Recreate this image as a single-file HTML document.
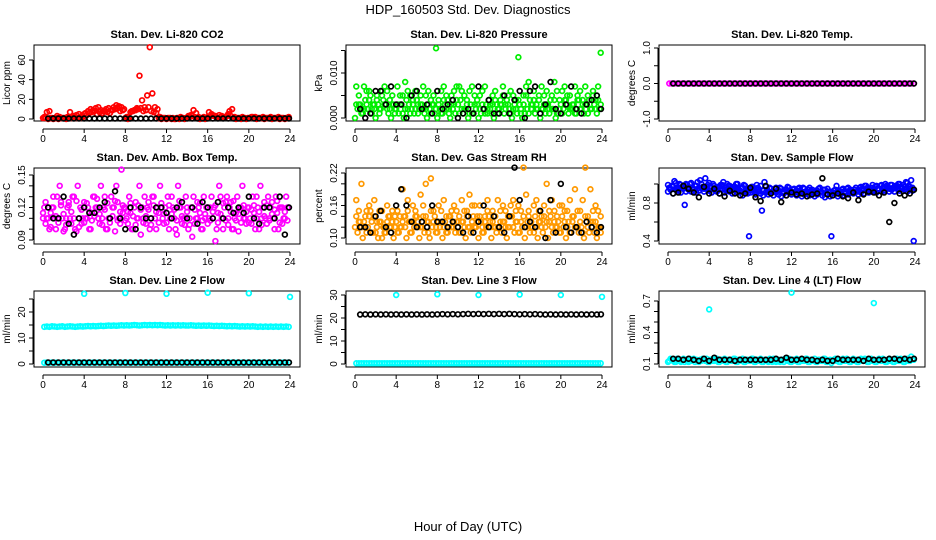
<!DOCTYPE html>
<html><head><meta charset="utf-8"><style>
html,body{margin:0;padding:0;background:#fff;}
svg{display:block;font-family:"Liberation Sans",sans-serif;}
</style></head><body>
<svg id="chart" width="936" height="540" viewBox="0 0 936 540" xmlns="http://www.w3.org/2000/svg">
<text x="468" y="14" text-anchor="middle" font-size="13">HDP_160503  Std. Dev. Diagnostics</text>
<text x="468" y="531" text-anchor="middle" font-size="13">Hour of Day (UTC)</text>
<g id="panels"></g>
</svg>
<script>
const hoursDense = [0.125,0.375,0.625,0.875,1.125,1.375,1.625,1.875,2.125,2.375,2.625,2.875,3.125,3.375,3.625,3.875,4.125,4.375,4.625,4.875,5.125,5.375,5.625,5.875,6.125,6.375,6.625,6.875,7.125,7.375,7.625,7.875,8.125,8.375,8.625,8.875,9.125,9.375,9.625,9.875,10.125,10.375,10.625,10.875,11.125,11.375,11.625,11.875,12.125,12.375,12.625,12.875,13.125,13.375,13.625,13.875,14.125,14.375,14.625,14.875,15.125,15.375,15.625,15.875,16.125,16.375,16.625,16.875,17.125,17.375,17.625,17.875,18.125,18.375,18.625,18.875,19.125,19.375,19.625,19.875,20.125,20.375,20.625,20.875,21.125,21.375,21.625,21.875,22.125,22.375,22.625,22.875,23.125,23.375,23.625,23.875];
const hoursDense2 = [0,0.25,0.5,0.75,1,1.25,1.5,1.75,2,2.25,2.5,2.75,3,3.25,3.5,3.75,4,4.25,4.5,4.75,5,5.25,5.5,5.75,6,6.25,6.5,6.75,7,7.25,7.5,7.75,8,8.25,8.5,8.75,9,9.25,9.5,9.75,10,10.25,10.5,10.75,11,11.25,11.5,11.75,12,12.25,12.5,12.75,13,13.25,13.5,13.75,14,14.25,14.5,14.75,15,15.25,15.5,15.75,16,16.25,16.5,16.75,17,17.25,17.5,17.75,18,18.25,18.5,18.75,19,19.25,19.5,19.75,20,20.25,20.5,20.75,21,21.25,21.5,21.75,22,22.25,22.5,22.75,23,23.25,23.5,23.75];
const hoursHalf = [0.5,1,1.5,2,2.5,3,3.5,4,4.5,5,5.5,6,6.5,7,7.5,8,8.5,9,9.5,10,10.5,11,11.5,12,12.5,13,13.5,14,14.5,15,15.5,16,16.5,17,17.5,18,18.5,19,19.5,20,20.5,21,21.5,22,22.5,23,23.5,23.9];
const hoursOutlier = [4,8,12,16,20,24];
const hoursOutlier3 = [4,12,20];
const xTicks = [0,4,8,12,16,20,24];

const co2Red = [2,7,8,1,1,3,2,1, 1,2,7,2,1,1,1,2, 6,8,10,9,11,12,9,8, 10,11,9,12,14,13,12,10, 2,1,8,9,11,44,19,12, 24,73,26,12,10,2,1,1, 1,1,1,0,1,2,1,1, 3,4,9,6,2,1,2,1, 7,5,3,2,4,3,2,3, 8,10,2,1,1,2,1,1, 1,2,2,1,1,2,1,1, 2,1,1,2,1,1,1,2];
const co2Red2 = [1,1,0,1,0,1,0,1, 1,0,1,1,3,4,5,3, 5,4,6,7,8,5,7,6, 8,7,6,9,10,11,8,9, 1,0,7,8,9,10,11,8, 9,12,8,7,6,1,0,1, 0,1,0,0,1,0,1,0, 1,2,3,2,1,0,1,0, 2,3,4,3,1,2,1,2, 5,3,1,0,1,0,1,0, 1,2,1,0,1,1,0,1, 1,0,1,1,0,1,0,1];
const co2Black = [0.5,0.5,0.5,0.5,0.5,0.5,0.5,0.5,0.5,0.5,0.5,0.5,0.5,0.5,0.5,0.5,0.5,0.5,0.5,0.5,0.5,0.5,0.5,0.5,0.5,0.5,0.5,0.5,0.5,0.5,0.5,0.5,0.5,0.5,0.5,0.5,0.5,0.5,0.5,0.5,0.5,0.5,0.5,0.5,0.5,0.5,0.5,0.5];

const presGreenA = [7,3,2,7,6,4,2,3, 5,1,6,7,2,4,3,2, 7,3,5,8,2,1,4,6, 3,5,7,2,6,1,3,15.5, 4,6,7,2,1,5,3,7, 7,6,2,4,1,7,5,3, 2,6,7,1,3,5,6,2, 4,7,3,5,6,2,4,13.5, 1,5,7,8,3,6,2,4, 7,3,6,2,5,8,1,4, 6,7,3,5,2,7,4,6, 3,7,5,2,6,4,7,14.5];
const presGreenB = [0,2,3,1,4,2,5,3, 0,3,2,4,3,1,0,3, 2,1,3,0,4,3,2,1, 4,2,3,1,0,2,3,1, 0,2,1,3,4,0,2,1, 3,4,1,2,0,3,1,2, 0,1,2,3,4,1,0,3, 2,3,1,4,2,0,3,1, 3,0,1,2,4,3,1,2, 0,2,1,3,4,2,0,1, 3,2,4,1,2,3,1,4, 2,1,3,4,2,3,1,2];
const presGreenC = [3,5,1,2,3,6,1,2, 4,2,5,3,6,2,5,1, 3,5,1,2,6,5,3,2, 1,3,2,5,3,4,5,2, 3,1,4,5,2,3,6,4, 1,2,5,3,6,1,3,4, 5,3,1,2,2,3,4,1, 3,5,2,3,1,5,2,4, 2,3,5,1,2,4,3,5, 2,5,3,1,2,4,6,2, 1,4,5,2,3,1,5,2, 4,3,1,2,5,2,4,3];
const presBlack = [2,0,1,6,6,3,7,3,3,0,5,6,2,3,1,6,2,3,4,0,1,2,1,7,2,4,1,1,5,1,4,6,0,6,7,1,3,8,2,1,3,7,2,1,3,4,5,2];

const tempMag = [0,0,0,0,0,0,0,0,0,0,0,0,0,0,0,0,0,0,0,0,0,0,0,0,0,0,0,0,0,0,0,0,0,0,0,0,0,0,0,0,0,0,0,0,0,0,0,0,0,0,0,0,0,0,0,0,0,0,0,0,0,0,0,0,0,0,0,0,0,0,0,0,0,0,0,0,0,0,0,0,0,0,0,0,0,0,0,0,0,0,0,0,0,0,0,0];
const tempBlack = [0,0,0,0,0,0,0,0,0,0,0,0,0,0,0,0,0,0,0,0,0,0,0,0,0,0,0,0,0,0,0,0,0,0,0,0,0,0,0,0,0,0,0,0,0,0,0,0];

const boxMagA = [12,11,10,12,11,13,14,11, 10,12,11,13,10,14,12,11, 11,12,10,13,12,11,14,12, 10,11,13,12,14,11,15.5,12, 11,13,10,12,11,14,12,13, 12,10,13,11,12,14,11,12, 13,11,12,10,14,12,11,13, 10,12,13,11,12,10,13,12, 11,13,12,10,14,11,12,13, 12,10,11,13,12,14,11,12, 11,13,10,12,14,12,11,13, 12,11,13,10,12,11,13,12];
const boxMagB = [11,10.5,12,11.5,13,10,11,12.5, 9.8,11,12.5,10.5,13,9.8,11,10.5, 12.5,11,10,11.5,13,12,10.5,11, 13,10,11,12,9.8,12.5,10.5,11.5, 12,10.5,11.5,10,12.5,11,9.5,11, 10.5,12.5,11,13,10,11.5,12,10.5, 11.5,10,13,11,9.5,12,10.5,11, 12,11,9.3,10.5,12.5,11.5,10,11, 10.5,12,11,8.9,11.5,13,10,12.5, 11,12.5,10,11.5,9.8,12,11,10.5, 12,10.5,11.5,13,10,11,12.5,10.5, 11,12.5,10,11.5,12,10.5,11,12];
const boxMagC = [11.5,12.5,11,10.2,12,11.2,10.6,12.2, 11.4,10.4,12.2,11.6,11,12.6,10.2,11.8, 10.6,12.4,11.6,10.8,11.2,12.8,11.4,10.4, 11.8,12.4,10.6,11.2,12.6,10.8,11.6,12.2, 10.8,11.6,12.4,11.2,10.4,12.2,11.8,10.6, 11.2,11.8,10.4,12.2,11.6,10.6,12.4,11.4, 10.6,12.2,11.4,11.8,10.8,12.6,11.2,10.4, 11.6,10.4,12,11.8,11,12.4,10.8,11.4, 12,10.8,11.6,12.2,10.6,11.4,12.4,10.8, 10.4,11.6,12.6,10.8,11.4,10.6,12.2,11.6, 10.6,11.8,12.2,11,11.6,10.4,11.2,12.2, 10.8,11.4,11.8,12.6,10.6,12,11.6,10.8];
const boxBlack = [12,11,11,13,10.5,9.5,11,12,11.5,11.5,12,12.5,11,13.5,11,10,12,10,12,11,11,12,12,11.5,11,12,12.5,11,12,10.5,12.5,12,11,12.5,11,12,11.5,12,11.5,13,11,10.5,12,12,11,13,9.5,12];

const rhOrangeA = [17,13,20,12,15,14,11,17, 13,15,10,12,16,14,13,12, 15,12,19,14,17,13,16,15, 12,18,14,20,13,21,15,12, 16,13,17,14,12,15,16,13, 14,17,12,15,18,13,16,14, 16,12,14,17,13,15,12,17, 13,16,15,12,14,17,13,16, 15,23,18,14,12,16,17,13, 14,16,20,13,17,15,12,16, 16,13,15,17,14,19,12,15, 17,23,14,19,13,16,15,14];
const rhOrangeB = [12,11,13,10,14,12,15,11, 11,10,13,12,11,14,12,10, 13,11,12,14,10,13,11,12, 14,10,12,11,13,10,12,14, 11,12,10,13,11,14,12,11, 12,11,13,10,12,11,14,12, 10,13,11,12,14,10,12,11, 12,11,13,10,12,14,11,13, 11,12,10,13,11,12,14,10, 13,11,12,10,14,11,12,13, 11,12,10,13,11,14,12,11, 12,10,13,11,12,11,10,12];
const rhOrangeC = [14,15,12,13,11,16,13,14, 12,13,15,11,13,12,15,14, 11,14,13,12,15,11,13,14, 13,12,16,14,11,15,13,11, 13,15,12,11,14,12,13,15, 11,13,15,14,12,16,12,13, 14,11,13,15,12,13,14,12, 15,13,12,14,16,12,15,11, 13,14,12,15,13,11,12,15, 12,14,13,15,12,13,14,11, 14,15,12,11,13,12,15,13, 11,14,12,13,15,13,12,11];
const rhBlack = [12,12,11,14,15,12,11,16,19,16,13,12,13,12,16,13,13,12,13,12,11,14,11,13,16,12,14,12,11,14,23,17,12,13,12,15,10,17,11,20,12,11,12,11,13,12,11,12];

const flowBlueA = [0.96,0.98,1.03,0.95,1.0,0.97,0.78,0.99, 1.0,0.96,0.98,1.02,1.04,0.97,1.06,0.99, 0.98,1.0,0.95,0.97,0.99,1.02,0.96,0.98, 0.95,0.97,1.0,0.94,0.96,0.99,0.93,0.45, 0.97,0.95,0.99,0.93,0.72,1.02,0.94,0.96, 0.92,0.95,0.93,0.96,0.91,0.94,0.97,0.92, 0.94,0.91,0.95,0.93,0.96,0.92,0.94,0.93, 0.91,0.93,0.95,0.92,0.94,0.9,0.92,0.45, 0.93,0.98,0.91,0.94,0.92,0.95,0.93,0.91, 0.94,0.92,0.96,0.95,0.98,0.96,0.94,0.99, 0.97,0.95,0.98,0.96,1.0,0.97,0.99,0.96, 0.98,1.0,0.97,0.99,1.02,0.98,1.04,0.4];
const flowBlueB = [0.92,0.95,0.9,0.94,0.93,0.91,0.96,0.92, 0.94,0.92,0.95,0.91,0.93,0.96,0.92,0.95, 0.93,0.91,0.94,0.92,0.9,0.95,0.91,0.93, 0.92,0.9,0.94,0.91,0.93,0.88,0.92,0.9, 0.91,0.93,0.89,0.92,0.9,0.88,0.91,0.89, 0.9,0.88,0.91,0.89,0.87,0.9,0.88,0.91, 0.89,0.91,0.88,0.9,0.87,0.89,0.91,0.88, 0.9,0.87,0.89,0.91,0.88,0.86,0.89,0.87, 0.88,0.9,0.87,0.89,0.88,0.9,0.89,0.91, 0.9,0.92,0.89,0.91,0.9,0.93,0.91,0.92, 0.93,0.91,0.94,0.92,0.93,0.95,0.92,0.94, 0.92,0.95,0.93,0.96,0.94,0.92,0.95,0.93];
const flowBlueC = [0.99,0.94,0.97,1.01,0.96,0.99,0.95,1.0, 0.97,1.01,0.94,0.98,0.96,1.0,0.95,0.97, 1.01,0.96,0.98,0.94,0.97,0.99,0.94,1.0, 0.98,0.95,0.97,1.0,0.92,0.96,0.98,0.95, 0.94,0.97,0.92,0.96,0.98,0.93,0.97,0.92, 0.95,0.92,0.96,0.93,0.95,0.92,0.94,0.96, 0.92,0.95,0.93,0.96,0.92,0.95,0.92,0.96, 0.94,0.91,0.93,0.96,0.91,0.94,0.95,0.92, 0.91,0.94,0.93,0.92,0.95,0.92,0.96,0.94, 0.92,0.96,0.93,0.97,0.94,0.98,0.95,0.96, 0.95,0.98,0.94,0.99,0.96,0.98,0.95,0.99, 0.96,0.98,1.0,0.95,0.97,1.01,0.97,0.96];
const flowBlack = [0.9,0.91,0.98,0.95,0.91,0.86,0.97,0.9,0.95,0.9,0.87,0.93,0.9,0.88,0.9,0.96,0.86,0.82,0.98,0.9,0.95,0.81,0.88,0.91,0.89,0.9,0.87,0.89,0.9,1.06,0.89,0.88,0.9,0.87,0.85,0.91,0.83,0.89,0.92,0.91,0.88,0.91,0.6,0.8,0.9,0.88,0.9,0.94];

const line2Cyan = [14.3,14.4,14.3,14.5,14.4,14.3,14.4,14.5,14.3,14.4,14.5,14.4,14.3,14.4,14.5,14.4,14.5,14.6,14.5,14.6,14.5,14.6,14.7,14.6,14.7,14.8,14.7,14.8,14.7,14.8,14.9,14.8,14.9,14.8,14.9,15.0,14.9,14.8,14.9,15.0,14.9,15.0,14.9,15.0,14.9,15.0,14.9,14.8,14.9,14.8,14.9,14.8,14.9,14.8,14.9,14.8,14.8,14.9,14.8,14.7,14.8,14.7,14.8,14.7,14.8,14.7,14.6,14.7,14.6,14.7,14.6,14.5,14.6,14.5,14.6,14.5,14.4,14.5,14.4,14.5,14.4,14.5,14.4,14.3,14.4,14.3,14.4,14.3,14.4,14.3,14.4,14.3,14.4,14.3,14.4,14.3];
const line2CyanLow = [0.5,0.6,0.5,0.6,0.5,0.6,0.5,0.6,0.5,0.6,0.5,0.6,0.5,0.6,0.5,0.6,0.5,0.6,0.5,0.6,0.5,0.6,0.5,0.6,0.5,0.6,0.5,0.6,0.5,0.6,0.5,0.6,0.5,0.6,0.5,0.6,0.5,0.6,0.5,0.6,0.5,0.6,0.5,0.6,0.5,0.6,0.5,0.6,0.5,0.6,0.5,0.6,0.5,0.6,0.5,0.6,0.5,0.6,0.5,0.6,0.5,0.6,0.5,0.6,0.5,0.6,0.5,0.6,0.5,0.6,0.5,0.6,0.5,0.6,0.5,0.6,0.5,0.6,0.5,0.6,0.5,0.6,0.5,0.6,0.5,0.6,0.5,0.6,0.5,0.6,0.5,0.6,0.5,0.6,0.5,0.6];
const line2Out = [27,27.3,27,27.4,27.2,25.8];
const line2Black = [0.6,0.6,0.6,0.6,0.6,0.6,0.6,0.6,0.6,0.6,0.6,0.6,0.6,0.6,0.6,0.6,0.6,0.6,0.6,0.6,0.6,0.6,0.6,0.6,0.6,0.6,0.6,0.6,0.6,0.6,0.6,0.6,0.6,0.6,0.6,0.6,0.6,0.6,0.6,0.6,0.6,0.6,0.6,0.6,0.6,0.6,0.6,0.6];

const line3Cyan = [0.3,0.3,0.3,0.3,0.3,0.3,0.3,0.3,0.3,0.3,0.3,0.3,0.3,0.3,0.3,0.3,0.3,0.3,0.3,0.3,0.3,0.3,0.3,0.3,0.3,0.3,0.3,0.3,0.3,0.3,0.3,0.3,0.3,0.3,0.3,0.3,0.3,0.3,0.3,0.3,0.3,0.3,0.3,0.3,0.3,0.3,0.3,0.3,0.3,0.3,0.3,0.3,0.3,0.3,0.3,0.3,0.3,0.3,0.3,0.3,0.3,0.3,0.3,0.3,0.3,0.3,0.3,0.3,0.3,0.3,0.3,0.3,0.3,0.3,0.3,0.3,0.3,0.3,0.3,0.3,0.3,0.3,0.3,0.3,0.3,0.3,0.3,0.3,0.3,0.3,0.3,0.3,0.3,0.3,0.3,0.3];
const line3Out = [30,30.3,30,30.2,30,29.2];
const line3Black = [21.5,21.6,21.5,21.6,21.5,21.6,21.5,21.6,21.5,21.6,21.5,21.6,21.5,21.6,21.5,21.6,21.7,21.6,21.7,21.6,21.7,21.8,21.7,21.8,21.7,21.8,21.7,21.8,21.7,21.8,21.7,21.6,21.7,21.6,21.7,21.6,21.5,21.6,21.5,21.6,21.5,21.6,21.5,21.6,21.5,21.6,21.5,21.6];

const line4Cyan = [0.13,0.14,0.12,0.15,0.13,0.14,0.12,0.13,0.15,0.14,0.12,0.13,0.14,0.15,0.13,0.12,0.14,0.13,0.15,0.12,0.14,0.13,0.12,0.14,0.13,0.15,0.12,0.14,0.13,0.12,0.14,0.13,0.15,0.12,0.14,0.13,0.12,0.14,0.13,0.15,0.12,0.14,0.13,0.12,0.14,0.15,0.13,0.12,0.14,0.13,0.12,0.14,0.13,0.15,0.12,0.14,0.13,0.12,0.14,0.13,0.15,0.12,0.13,0.11,0.14,0.13,0.12,0.14,0.13,0.15,0.12,0.14,0.13,0.12,0.14,0.13,0.15,0.12,0.14,0.13,0.12,0.14,0.13,0.15,0.12,0.14,0.13,0.12,0.14,0.13,0.15,0.12,0.14,0.13,0.17,0.14];
const line4Cyan2 = [0.12,0.15,0.13,0.12,0.14,0.12,0.15,0.14,0.12,0.13,0.15,0.14,0.12,0.13,0.14,0.15,0.12,0.14,0.13,0.15,0.12,0.14,0.15,0.12,0.14,0.13,0.15,0.12,0.14,0.15,0.12,0.14,0.13,0.15,0.12,0.14,0.15,0.12,0.14,0.12,0.13,0.15,0.12,0.14,0.13,0.12,0.14,0.15,0.12,0.14,0.15,0.12,0.14,0.13,0.15,0.12,0.14,0.15,0.12,0.14,0.13,0.15,0.12,0.14,0.13,0.15,0.14,0.12,0.15,0.13,0.14,0.12,0.15,0.14,0.12,0.15,0.13,0.14,0.12,0.15,0.14,0.12,0.15,0.13,0.14,0.12,0.15,0.14,0.12,0.15,0.13,0.14,0.12,0.15,0.13,0.14];
const line4Out = [0.62,0.78,0.68];
const line4Black = [0.15,0.15,0.14,0.15,0.14,0.13,0.15,0.13,0.16,0.14,0.14,0.14,0.13,0.14,0.14,0.14,0.14,0.14,0.14,0.14,0.15,0.14,0.16,0.14,0.14,0.15,0.14,0.14,0.13,0.14,0.13,0.13,0.15,0.14,0.14,0.14,0.14,0.13,0.15,0.14,0.14,0.14,0.15,0.15,0.14,0.15,0.14,0.15];

const NS = "http://www.w3.org/2000/svg";
const root = document.getElementById('panels');
const colX = [34, 346, 659];
const rowY = [45, 168, 291];
const W = 266, H = 76;

function mk(tag, attrs, parent){
  const e = document.createElementNS(NS, tag);
  for (const k in attrs) e.setAttribute(k, attrs[k]);
  parent.appendChild(e);
  return e;
}

const panels = [
 {name:'co2', title:'Stan. Dev. Li-820 CO2', ylab:'Licor ppm', col:0,row:0, v0:0,p0:119,v1:60,p1:60, ticks:[0,20,40,60], labels:['0','20','40','60'],
  series:[[hoursDense,co2Red,'#ff0000'],[hoursDense2,co2Red2,'#ff0000'],[hoursHalf,co2Black,'#000']]},
 {name:'pressure', title:'Stan. Dev. Li-820 Pressure', ylab:'kPa', col:1,row:0, v0:0,p0:118,v1:10,p1:73, ticks:[0,5,10,15], labels:['0.000','','0.010',''],
  series:[[hoursDense,presGreenA,'#00ee00'],[hoursDense2,presGreenB,'#00ee00'],[hoursDense,presGreenC,'#00ee00'],[hoursHalf,presBlack,'#000']]},
 {name:'licor-temp', title:'Stan. Dev. Li-820 Temp.', ylab:'degrees C', col:2,row:0, v0:-1,p0:119,v1:1,p1:48, ticks:[-1,-0.5,0,0.5,1], labels:['-1.0','','0.0','','1.0'],
  series:[[hoursDense,tempMag,'#ff00ff'],[hoursHalf,tempBlack,'#000']]},
 {name:'amb-box-temp', title:'Stan. Dev. Amb. Box Temp.', ylab:'degrees C', col:0,row:1, v0:9,p0:240,v1:15,p1:175, ticks:[9,10,11,12,13,14,15], labels:['0.09','','','0.12','','','0.15'],
  series:[[hoursDense,boxMagA,'#ff00ff'],[hoursDense2,boxMagB,'#ff00ff'],[hoursDense2,boxMagC,'#ff00ff'],[hoursHalf,boxBlack,'#000']]},
 {name:'gas-rh', title:'Stan. Dev. Gas Stream RH', ylab:'percent', col:1,row:1, v0:10,p0:238,v1:22,p1:173, ticks:[10,12,14,16,18,20,22], labels:['0.10','','','0.16','','','0.22'],
  series:[[hoursDense,rhOrangeA,'#ff9900'],[hoursDense2,rhOrangeB,'#ff9900'],[hoursDense,rhOrangeC,'#ff9900'],[hoursHalf,rhBlack,'#000']]},
 {name:'sample-flow', title:'Stan. Dev. Sample Flow', ylab:'ml/min', col:2,row:1, v0:0.4,p0:241,v1:0.8,p1:203, ticks:[0.4,0.6,0.8,1.0], labels:['0.4','','0.8',''],
  series:[[hoursDense,flowBlueA,'#0000ff'],[hoursDense2,flowBlueB,'#0000ff'],[hoursDense2,flowBlueC,'#0000ff'],[hoursHalf,flowBlack,'#000']]},
 {name:'line2-flow', title:'Stan. Dev. Line 2 Flow', ylab:'ml/min', col:0,row:2, v0:0,p0:364,v1:20,p1:312, ticks:[0,5,10,15,20,25], labels:['0','','10','','20',''],
  series:[[hoursDense,line2Cyan,'#00ffff'],[hoursDense,line2CyanLow,'#00ffff'],[hoursOutlier,line2Out,'#00ffff'],[hoursHalf,line2Black,'#000']]},
 {name:'line3-flow', title:'Stan. Dev. Line 3 Flow', ylab:'ml/min', col:1,row:2, v0:0,p0:364,v1:30,p1:295, ticks:[0,5,10,15,20,25,30], labels:['0','','10','','20','','30'],
  series:[[hoursDense,line3Cyan,'#00ffff'],[hoursOutlier,line3Out,'#00ffff'],[hoursHalf,line3Black,'#000']]},
 {name:'line4-flow', title:'Stan. Dev. Line 4 (LT) Flow', ylab:'ml/min', col:2,row:2, v0:0.1,p0:364,v1:0.7,p1:301, ticks:[0.1,0.2,0.3,0.4,0.5,0.6,0.7], labels:['0.1','','','0.4','','','0.7'],
  series:[[hoursDense,line4Cyan,'#00ffff'],[hoursDense2,line4Cyan2,'#00ffff'],[hoursOutlier3,line4Out,'#00ffff'],[hoursHalf,line4Black,'#000']]}
];

panels.forEach(p => {
  const L = colX[p.col], T = rowY[p.row], B = T + H;
  const xs = h => L + 9 + h * (247 / 24);
  const ys = v => p.p0 + (v - p.v0) * (p.p1 - p.p0) / (p.v1 - p.v0);
  const g = mk('g', {}, root);
  
  
  const t = mk('text', {x: L + W/2, y: T - 7, 'text-anchor':'middle', 'font-size':'11', 'font-weight':'bold'}, g);
  t.textContent = p.title;
  
  
  const fr = mk('rect', {x:L, y:T, width:W, height:H, fill:'none', stroke:'#000', 'stroke-width':'1'}, g);
  
  
  const xa = mk('g', {}, g);
  
  
  mk('line', {x1: xs(0), x2: xs(24), y1: B + 8, y2: B + 8, stroke:'#000'}, xa);
  xTicks.forEach(v => {
    mk('line', {x1: xs(v), x2: xs(v), y1: B + 8, y2: B + 12, stroke:'#000'}, xa);
    const tl = mk('text', {x: xs(v), y: B + 21, 'text-anchor':'middle', 'font-size':'10'}, xa);
    tl.textContent = v;
    
    
  });
  const ya = mk('g', {}, g);
  
  
  mk('line', {x1: L - 1, x2: L - 1, y1: ys(p.ticks[0]), y2: ys(p.ticks[p.ticks.length-1]), stroke:'#000'}, ya);
  p.ticks.forEach((v, i) => {
    const yy = ys(v);
    mk('line', {x1: L - 5, x2: L - 1, y1: yy, y2: yy, stroke:'#000'}, ya);
    if (p.labels[i]) {
      const tl = mk('text', {x: L - 9, y: yy, 'text-anchor':'middle', 'font-size':'10', transform:`rotate(-90 ${L-9} ${yy})`}, ya);
      tl.textContent = p.labels[i];
      
      
    }
  });
  const yl = mk('text', {x: L - 24, y: T + H/2, 'text-anchor':'middle', 'font-size':'10', transform:`rotate(-90 ${L-24} ${T+H/2})`}, g);
  yl.textContent = p.ylab;
  
  
  p.series.forEach(s => {
    const [hrs, vals, col] = s;
    const sg = mk('g', {fill:'none', stroke: col, 'stroke-width':'1.7'}, g);
    
    
    vals.forEach((v, i) => {
      const c = mk('circle', {cx: xs(hrs[i]).toFixed(2), cy: ys(v).toFixed(2), r: '2.4'}, sg);
      
      
    });
  });
});
</script>
</body></html>
